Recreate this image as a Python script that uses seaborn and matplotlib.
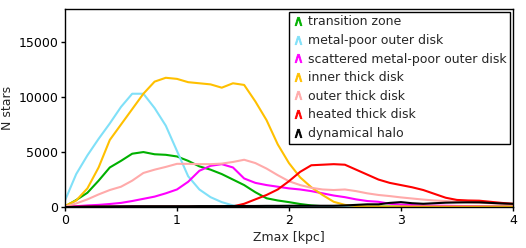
import matplotlib
matplotlib.use("Agg")
import matplotlib.pyplot as plt
from matplotlib.lines import Line2D
import numpy as np
import pandas as pd
import seaborn as sns

# Zmax grid [kpc], step 0.1
zmax = [round(0.1 * i, 1) for i in range(41)]

transition_zone = [50, 640, 1300, 2400, 3600, 4200, 4850, 5000, 4800, 4750,
                   4600, 4200, 3700, 3400, 3000, 2500, 2000, 1350, 800, 600,
                   450, 280, 150, 80, 50, 50, 50, 50, 50, 50,
                   50, 50, 50, 50, 50, 50, 50, 50, 50, 50, 50]
metal_poor_outer = [600, 3000, 4700, 6200, 7600, 9100, 10300, 10300, 9000, 7400,
                    5100, 2800, 1600, 900, 450, 150, 60, 40, 30, 30,
                    30, 30, 30, 30, 30, 30, 30, 30, 30, 30,
                    30, 30, 30, 30, 30, 30, 30, 30, 30, 30, 30]
scattered_outer = [50, 80, 150, 200, 280, 380, 550, 750, 950, 1250,
                   1600, 2300, 3300, 3750, 3900, 3600, 2600, 2200, 2000, 1850,
                   1700, 1600, 1450, 1250, 1050, 900, 700, 550, 480, 300,
                   230, 180, 150, 130, 120, 100, 90, 80, 70, 60, 50]
inner_thick = [100, 600, 1700, 3600, 6100, 7500, 8900, 10300, 11400, 11750,
               11650, 11350, 11250, 11150, 10850, 11250, 11100, 9600, 7900, 5700,
               4000, 2700, 1800, 1100, 480, 200, 100, 60, 50, 50,
               50, 50, 50, 50, 50, 50, 50, 50, 50, 50, 50]
outer_thick = [50, 330, 700, 1150, 1550, 1850, 2400, 3100, 3400, 3650,
               3930, 3930, 3900, 3900, 3950, 4100, 4300, 4000, 3500, 2900,
               2350, 2000, 1750, 1600, 1550, 1600, 1450, 1250, 1100, 1000,
               880, 780, 680, 600, 550, 500, 450, 400, 350, 300, 250]
heated_thick = [0, 30, 40, 40, 40, 40, 40, 40, 40, 40,
                40, 40, 40, 40, 40, 60, 300, 700, 1100, 1600,
                2350, 3200, 3800, 3850, 3900, 3850, 3400, 2950, 2500, 2200,
                2000, 1800, 1550, 1200, 850, 650, 600, 580, 480, 380, 300]
dynamical_halo = [0, 20, 40, 50, 60, 70, 80, 80, 80, 80,
                  80, 80, 90, 90, 90, 100, 100, 100, 110, 110,
                  120, 120, 120, 120, 120, 150, 200, 250, 250, 380,
                  450, 350, 300, 350, 400, 420, 430, 430, 380, 330, 300]

labels = ["transition zone", "metal-poor outer disk", "scattered metal-poor outer disk",
          "inner thick disk", "outer thick disk", "heated thick disk", "dynamical halo"]
colors = ["#00b000", "#80e0f8", "#ff00ff", "#ffc000", "#ffaaaa", "#ff0000", "#000000"]
series = [transition_zone, metal_poor_outer, scattered_outer, inner_thick,
          outer_thick, heated_thick, dynamical_halo]

df = pd.concat(
    [pd.DataFrame({"zmax": zmax, "n": vals, "population": lab})
     for lab, vals in zip(labels, series)],
    ignore_index=True,
)

sns.set_style("white")
plt.rcParams["font.family"] = ["DejaVu Sans"]

fig = plt.figure(figsize=(5.26, 2.48), dpi=100)
ax = fig.add_axes([0.1236, 0.165, 0.8514, 0.7987])

sns.lineplot(data=df, x="zmax", y="n", hue="population", hue_order=labels,
             palette=dict(zip(labels, colors)), linewidth=1.5, ax=ax, legend=False)

ax.set_xlim(0, 4)
ax.set_ylim(0, 18000)
ax.set_xticks([0, 1, 2, 3, 4])
ax.set_yticks([0, 5000, 10000, 15000])
ax.tick_params(direction="out", length=3, width=1, pad=2, labelsize=9,
               colors="black", bottom=True, left=True)
ax.set_xlabel("Zmax [kpc]", fontsize=9, labelpad=3)
ax.set_ylabel("N stars", fontsize=9, labelpad=3)
for sp in ax.spines.values():
    sp.set_color("black")
    sp.set_linewidth(1)

handles = [Line2D([], [], color=c, marker=r"$\wedge$", linestyle="None",
                  markersize=6, markeredgewidth=0.6)
           for c in colors]
leg = ax.legend(handles, labels, loc="upper right", fontsize=9, frameon=True,
                fancybox=False, edgecolor="black", framealpha=1,
                handlelength=0.8, handletextpad=0.4, labelspacing=0.45,
                borderaxespad=0.2, borderpad=0.3)
leg.get_frame().set_linewidth(1)

fig.savefig("out.png", dpi=100)
